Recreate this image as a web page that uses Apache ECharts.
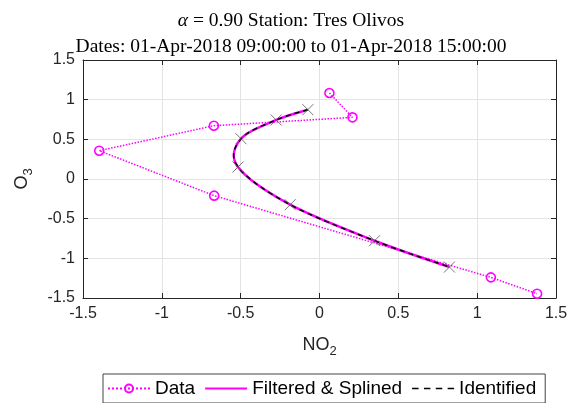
<!DOCTYPE html>
<html>
<head>
<meta charset="utf-8">
<script src="https://cdn.jsdelivr.net/npm/echarts@6/dist/echarts.min.js"></script>
<style>
html,body{margin:0;padding:0;background:#fff;}
#chart{width:577px;height:403px;}
</style>
</head>
<body>
<div id="chart"></div>
<script>
// measured points (NO2, O3), hourly
var dataNO2 = [0.063, 0.209, -0.670, -1.397, -0.668, 1.087, 1.380];
var dataO3  = [1.084, 0.777, 0.672, 0.357, -0.210, -1.240, -1.446];

// filtered / identified states
var identNO2 = [-0.074, -0.275, -0.498, -0.517, -0.186, 0.349, 0.824];
var identO3  = [0.874, 0.744, 0.508, 0.151, -0.324, -0.778, -1.110];

function pairs(xs, ys){
	var out = [];
	for(var i = 0; i < xs.length; i++){
		out.push([xs[i], ys[i]]);
	}
	return out;
}

// spline through the identified states, drawn in pixel space
function splinePath(api){
	var p = [];
	for(var i = 0; i < identNO2.length; i++){
		p.push(api.coord([identNO2[i], identO3[i]]));
	}
	var n = p.length;
	var d = 'M' + p[0][0] + ',' + p[0][1];
	for(var k = 0; k < n - 1; k++){
		var p0 = p[k === 0 ? 0 : k - 1];
		var p1 = p[k];
		var p2 = p[k + 1];
		var p3 = p[k + 2 < n ? k + 2 : n - 1];
		var c1x = p1[0] + (p2[0] - p0[0]) / 6;
		var c1y = p1[1] + (p2[1] - p0[1]) / 6;
		var c2x = p2[0] - (p3[0] - p1[0]) / 6;
		var c2y = p2[1] - (p3[1] - p1[1]) / 6;
		d += 'C' + c1x + ',' + c1y + ',' + c2x + ',' + c2y + ',' + p2[0] + ',' + p2[1];
	}
	return d;
}

function curveSeries(name, color, width, dash, z){
	return {
		name: name,
		type: 'custom',
		data: [0],
		itemStyle: {color: color},
		z: z,
		renderItem: function(params, api){
			return {
				type: 'path',
				shape: {pathData: splinePath(api)},
				style: {fill: null, stroke: color, lineWidth: width, lineDash: dash}
			};
		}
	};
}

var chart = echarts.init(document.getElementById('chart'));
var sansFont = '"Liberation Sans", Arial, sans-serif';
var serifFont = '"Liberation Serif", "DejaVu Serif", serif';
var axisCol = '#262626';
var gridCol = '#e3e3e3';

function mkAxis(pos, showLabel, name, gap){
	var ax = {
		type: 'value',
		position: pos,
		min: -1.5,
		max: 1.5,
		interval: 0.5,
		axisLine: {show: true, onZero: false, lineStyle: {color: axisCol, width: 1}},
		axisTick: {show: true, inside: true, length: 5, lineStyle: {color: axisCol}},
		axisLabel: {
			show: showLabel,
			color: '#262626',
			fontFamily: sansFont,
			fontSize: 16,
			margin: 8,
			formatter: function(v){ return String(v); }
		},
		splitLine: {show: showLabel, lineStyle: {color: gridCol, width: 1}}
	};
	if(name){
		ax.name = name;
		ax.nameLocation = 'middle';
		ax.nameGap = gap;
		ax.nameTextStyle = {
			color: '#262626',
			fontFamily: sansFont,
			fontSize: 18,
			rich: {
				b: {fontFamily: sansFont, fontSize: 18, color: '#262626'},
				s: {fontFamily: sansFont, fontSize: 13, color: '#262626', padding: [12, 0, 0, 0]}
			}
		};
	}
	return ax;
}

var option = {
	animation: false,
	backgroundColor: '#ffffff',
	title: {
		left: 286,
		top: 6,
		textAlign: 'center',
		itemGap: 6,
		text: '{i|α} = 0.90 Station: Tres Olivos',
		subtext: 'Dates: 01-Apr-2018 09:00:00 to 01-Apr-2018 15:00:00',
		textStyle: {
			fontFamily: serifFont,
			fontSize: 19.5,
			fontWeight: 'normal',
			color: '#000',
			rich: {
				i: {fontFamily: serifFont, fontStyle: 'italic', fontSize: 19.5, color: '#000'}
			}
		},
		subtextStyle: {
			fontFamily: serifFont,
			fontSize: 19.5,
			color: '#000'
		}
	},
	grid: {left: 83, right: 21, top: 60, bottom: 105},
	xAxis: [
		mkAxis('bottom', true, '{b|NO}{s|2}', 35),
		mkAxis('top', false)
	],
	yAxis: [
		mkAxis('left', true, '{b|O}{s|3}', 48),
		mkAxis('right', false)
	],
	legend: {
		left: 103,
		top: 374,
		orient: 'horizontal',
		itemWidth: 42,
		itemHeight: 10,
		itemGap: 10,
		padding: [5, 9, 5, 4],
		borderColor: '#444',
		borderWidth: 1,
		borderRadius: 0,
		textStyle: {fontFamily: sansFont, fontSize: 19, color: '#000'},
		data: [
			{name: 'Data'},
			{name: 'Filtered & Splined', icon: 'path://M0,0h42v2h-42z'},
			{name: 'Identified', icon: 'path://M0,0h6v1.5h-6zM11,0h6v1.5h-6zM22,0h6v1.5h-6zM33,0h6v1.5h-6z'}
		]
	},
	series: [
		{
			name: 'Data',
			type: 'line',
			data: pairs(dataNO2, dataO3),
			symbol: 'circle',
			symbolSize: 9,
			showAllSymbol: true,
			color: '#ff00ff',
			lineStyle: {color: '#ff00ff', width: 1.5, type: 'dotted'},
			itemStyle: {color: 'rgba(255,255,255,0)', borderColor: '#ff00ff', borderWidth: 1.6},
			z: 2
		},
		curveSeries('Filtered & Splined', '#ff00ff', 2.5, null, 3),
		curveSeries('Identified', '#000000', 1.5, [5, 4], 4),
		{
			name: 'marks',
			type: 'scatter',
			data: pairs(identNO2, identO3),
			symbol: 'path://M0,0L10,10M10,0L0,10',
			symbolSize: 11,
			itemStyle: {color: 'none', borderColor: '#555', borderWidth: 1},
			z: 5
		}
	]
};

chart.setOption(option);
</script>
</body>
</html>
